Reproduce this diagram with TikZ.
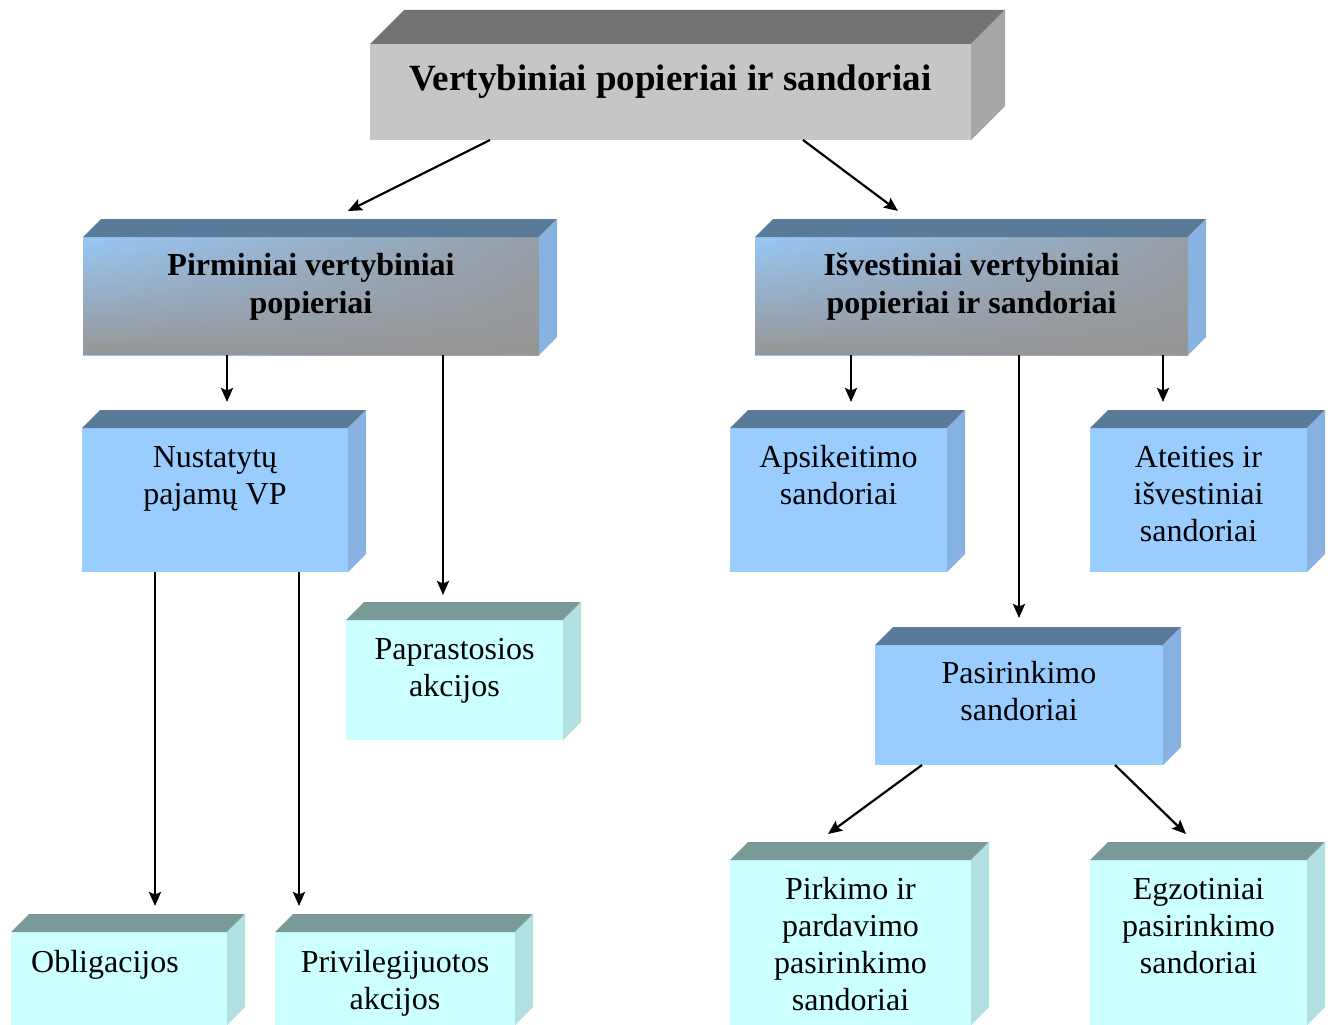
\documentclass[tikz,border=0pt]{standalone}
\usepackage{fontspec}
\setmainfont{Liberation Serif}
\usetikzlibrary{calc,arrows.meta,fadings}

\definecolor{grayTop}{HTML}{737373}
\definecolor{grayFront}{HTML}{C6C6C6}
\definecolor{graySide}{HTML}{A6A6A6}
\definecolor{blueTop}{HTML}{5A7A9A}
\definecolor{blueFront}{HTML}{99CCFF}
\definecolor{blueSide}{HTML}{88B2E0}
\definecolor{cyanTop}{HTML}{7A9999}
\definecolor{cyanFront}{HTML}{CCFFFF}
\definecolor{cyanSide}{HTML}{B0E0E0}
\definecolor{shadeGray}{HTML}{969696}

% horizontal blue-to-gray ramp for the two second-level boxes
\pgfdeclarehorizontalshading{bluegray}{100bp}{color(0bp)=(blueFront); color(25bp)=(blueFront!92!shadeGray); color(85bp)=(shadeGray); color(100bp)=(shadeGray)}
% gray veil that thickens towards the bottom
\tikzfading[name=veil, top color=transparent!100, middle color=transparent!65, bottom color=transparent!0]

% top and right faces of a box whose front face is node #1, depth #2
\newcommand\boxfaces[4]{%
  \fill[#3] (#1.north west) -- ++(#2,-#2) -- ($(#1.north east)+(#2,-#2)$) -- (#1.north east) -- cycle;
  \fill[#4] (#1.north east) -- ++(#2,-#2) -- ($(#1.south east)+(#2,-#2)$) -- (#1.south east) -- cycle;}

% labels are placed by the baseline of their last line
\tikzset{
  front/.style={rectangle, inner sep=0pt, outer sep=0pt, anchor=center},
  lbl/.style={align=center, inner sep=0pt, anchor=base, font=\fontsize{32}{37}\selectfont},
  blbl/.style={lbl, font=\bfseries\fontsize{32}{38}\selectfont},
  conn/.style={line width=2.2pt, -{Stealth[length=14pt,width=12pt,inset=2.5pt]}}
}

\begin{document}
\begin{tikzpicture}[x=1pt,y=-1pt]
\useasboundingbox (0,0) rectangle (1331,1025);
\fill[white] (0,0) rectangle (1331,1025);

% ---- title box
\node[front, fill=grayFront, minimum width=601pt, minimum height=96pt] (top) at (670.5,92) {};
\boxfaces{top}{34}{grayTop}{graySide}

% ---- second level
\node[front, minimum width=456pt, minimum height=118pt] (pirm) at (311,296) {};
\node[front, minimum width=433pt, minimum height=118pt] (isv) at (971.5,296) {};
\foreach \n in {pirm,isv}{
  \shade[shading=bluegray] (\n.north west) rectangle (\n.south east);
  \fill[shadeGray, path fading=veil] (\n.north west) rectangle (\n.south east);
  \boxfaces{\n}{18}{blueTop}{blueSide}
}

% ---- blue third level
\node[front, fill=blueFront, minimum width=266pt, minimum height=144pt] (nust) at (215,500) {};
\node[front, fill=blueFront, minimum width=217pt, minimum height=144pt] (apsi) at (838.5,500) {};
\node[front, fill=blueFront, minimum width=217pt, minimum height=144pt] (atei) at (1198.5,500) {};
\node[front, fill=blueFront, minimum width=288pt, minimum height=120pt] (pasi) at (1019,705) {};
\foreach \n in {nust,apsi,atei,pasi}{\boxfaces{\n}{18}{blueTop}{blueSide}}

% ---- cyan leaves
\node[front, fill=cyanFront, minimum width=217pt, minimum height=120pt] (papr) at (454.5,680) {};
\node[front, fill=cyanFront, minimum width=216pt, minimum height=93pt] (obli) at (119,978.5) {};
\node[front, fill=cyanFront, minimum width=240pt, minimum height=93pt] (priv) at (395,978.5) {};
\node[front, fill=cyanFront, minimum width=241pt, minimum height=165pt] (pirk) at (850.5,942.5) {};
\node[front, fill=cyanFront, minimum width=217pt, minimum height=165pt] (egzo) at (1198.5,942.5) {};
\foreach \n in {papr,obli,priv,pirk,egzo}{\boxfaces{\n}{18}{cyanTop}{cyanSide}}

% ---- labels
\node[lbl, font=\bfseries\fontsize{37}{42}\selectfont] (top-l) at ($(top.north)+(0,46)$) {Vertybiniai popieriai ir sandoriai};
\node[blbl] (pirm-l) at ($(pirm.north)+(0,76)$) {Pirminiai vertybiniai\\popieriai};
\node[blbl] (isv-l) at ($(isv.north)+(0,76)$) {Išvestiniai vertybiniai\\popieriai ir sandoriai};
\node[lbl] (nust-l) at ($(nust.north)+(0,76)$) {Nustatytų\\pajamų VP};
\node[lbl] (apsi-l) at ($(apsi.north)+(0,76)$) {Apsikeitimo\\sandoriai};
\node[lbl] (atei-l) at ($(atei.north)+(0,113)$) {Ateities ir\\išvestiniai\\sandoriai};
\node[lbl] (papr-l) at ($(papr.north)+(0,76)$) {Paprastosios\\akcijos};
\node[lbl] (pasi-l) at ($(pasi.north)+(0,75)$) {Pasirinkimo\\sandoriai};
\node[lbl] (pirk-l) at ($(pirk.north)+(0,150)$) {Pirkimo ir\\pardavimo\\pasirinkimo\\sandoriai};
\node[lbl] (egzo-l) at ($(egzo.north)+(0,113)$) {Egzotiniai\\pasirinkimo\\sandoriai};
\node[lbl] (obli-l) at ($(obli.north)+(-14,40)$) {Obligacijos};
\node[lbl] (priv-l) at ($(priv.north)+(0,77)$) {Privilegijuotos\\akcijos};

% ---- connectors
\draw[conn] ($(top.south)+(-180.5,0)$) -- ($(pirm.north)+(37,-26)$);
\draw[conn] ($(top.south)+(132.5,0)$) -- ($(isv.north)+(-73.5,-26)$);
\draw[conn] ($(pirm.south)+(-84,0)$) -- ($(nust.north)+(12,-26)$);
\draw[conn] ($(pirm.south)+(132,0)$) -- ($(papr.north)+(-11.5,-25)$);
\draw[conn] ($(isv.south)+(-120.5,0)$) -- ($(apsi.north)+(12.5,-26)$);
\draw[conn] ($(isv.south)+(47.5,0)$) -- ($(pasi.north)+(0,-27)$);
\draw[conn] ($(isv.south)+(191.5,0)$) -- ($(atei.north)+(-35.5,-26)$);
\draw[conn] ($(nust.south)+(-60,0)$) -- ($(obli.north)+(36,-26)$);
\draw[conn] ($(nust.south)+(84,0)$) -- ($(priv.north)+(-96,-26)$);
\draw[conn] ($(pasi.south)+(-97,0)$) -- ($(pirk.north)+(-22.5,-26)$);
\draw[conn] ($(pasi.south)+(96,0)$) -- ($(egzo.north)+(-12.5,-26)$);
\end{tikzpicture}
\end{document}
